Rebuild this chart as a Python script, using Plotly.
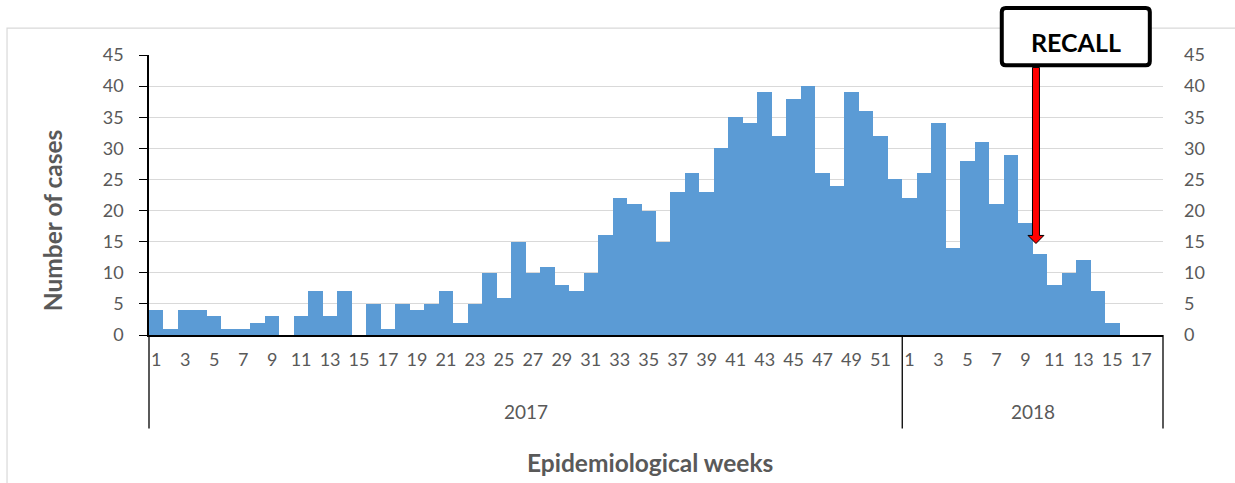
import plotly.graph_objects as go

# ---- data -----------------------------------------------------------------
year_2017_weeks = list(range(1, 53))
cases_2017 = [4, 1, 4, 4, 3, 1, 1, 2, 3, 0,
              3, 7, 3, 7, 0, 5, 1, 5, 4, 5,
              7, 2, 5, 10, 6, 15, 10, 11, 8, 7,
              10, 16, 22, 21, 20, 15, 23, 26, 23, 30,
              35, 34, 39, 32, 38, 40, 26, 24, 39, 36,
              32, 25]
year_2018_weeks = list(range(1, 19))
cases_2018 = [22, 26, 34, 14, 28, 31, 21, 29, 18, 13,
              8, 10, 12, 7, 2, 0, 0, None]
years = ["2017", "2018"]
recall_year = "2018"
recall_week = 10
recall_label = "RECALL"

# ---- build category sequence ----------------------------------------------
weeks = year_2017_weeks + year_2018_weeks
values = cases_2017 + cases_2018
year_of = ["2017"] * len(year_2017_weeks) + ["2018"] * len(year_2018_weeks)
idx = list(range(len(weeks)))
n = len(weeks)
xr = [-0.5, n - 0.5]

W, H = 1235, 483
ML, MR, MT, MB = 149, 72, 55, 148
PW, PH = W - ML - MR, H - MT - MB

def xpaper(v):
    return (v - xr[0]) / (xr[1] - xr[0])

tickvals = [i for i, w in zip(idx, weeks) if w % 2 == 1]
ticktext = [str(weeks[i]) for i in tickvals]

GRAY = "#595959"
FONT = "Lato"

fig = go.Figure()
fig.add_trace(go.Bar(x=idx, y=values, marker=dict(color="#5b9bd5", line=dict(width=0)),
                     width=1.0, hoverinfo="x+y"))
fig.add_trace(go.Scatter(x=[idx[0]], y=[0], yaxis="y2", mode="markers",
                         marker=dict(opacity=0), hoverinfo="skip", showlegend=False))

shapes = []
annotations = []

# group dividers and year labels
groups = []
for y in years:
    members = [i for i in idx if year_of[i] == y]
    groups.append((y, members[0], members[-1]))
div_bottom = -0.334
bounds = [groups[0][1] - 0.5] + [g[2] + 0.5 for g in groups]
for b in bounds:
    shapes.append(dict(type="line", xref="paper", yref="paper",
                       x0=xpaper(b), x1=xpaper(b), y0=0, y1=div_bottom,
                       line=dict(color="black", width=1.3)))
for y, a, b in groups:
    annotations.append(dict(text=y, xref="paper", yref="paper",
                            x=xpaper((a + b) / 2), y=-0.272, showarrow=False,
                            font=dict(family=FONT, size=19, color=GRAY),
                            xanchor="center", yanchor="middle"))

# outer light frame
shapes.append(dict(type="rect", xref="paper", yref="paper", x0=-0.14, x1=1.3,
                   y0=-0.7, y1=1.096, line=dict(color="#d9d9d9", width=1.2),
                   fillcolor="rgba(0,0,0,0)", layer="below"))

# recall arrow (data coordinates)
ri = [i for i in idx if year_of[i] == recall_year and weeks[i] == recall_week][0]
xc = ri - 0.27
hw, hh = 0.24, 0.55
ytop, ytip, yneck = 43.0, 14.7, 16.0
path = (f"M {xc-hw},{ytop} L {xc+hw},{ytop} L {xc+hw},{yneck} L {xc+hh},{yneck} "
        f"L {xc},{ytip} L {xc-hh},{yneck} L {xc-hw},{yneck} Z")
shapes.append(dict(type="path", xref="x", yref="y", path=path,
                   fillcolor="#ff0000", line=dict(color="black", width=1), layer="above"))

# recall box with slightly rounded corners (paper coordinates)
bx0, bx1, by0, by1 = 0.841, 0.987, 0.963, 1.168
rx, ry = 4 / PW, 4 / PH
box = (f"M {bx0+rx},{by1} L {bx1-rx},{by1} Q {bx1},{by1} {bx1},{by1-ry} "
       f"L {bx1},{by0+ry} Q {bx1},{by0} {bx1-rx},{by0} "
       f"L {bx0+rx},{by0} Q {bx0},{by0} {bx0},{by0+ry} "
       f"L {bx0},{by1-ry} Q {bx0},{by1} {bx0+rx},{by1} Z")
shapes.append(dict(type="path", xref="paper", yref="paper", path=box,
                   fillcolor="white", line=dict(color="black", width=4), layer="above"))
annotations.append(dict(text=f"<b>{recall_label}</b>", xref="paper", yref="paper",
                        x=(bx0 + bx1) / 2, y=1.045, showarrow=False,
                        font=dict(family=FONT, size=25, color="black"),
                        xanchor="center", yanchor="middle"))

# axis titles
annotations.append(dict(text="<b>Number of cases</b>", xref="paper", yref="paper",
                        x=-0.0957, y=0.41, textangle=-90, showarrow=False,
                        font=dict(family=FONT, size=24.5, color=GRAY),
                        xanchor="center", yanchor="middle"))
annotations.append(dict(text="<b>Epidemiological weeks</b>", xref="paper", yref="paper",
                        x=0.494, y=-0.457, showarrow=False,
                        font=dict(family=FONT, size=24.5, color=GRAY),
                        xanchor="center", yanchor="middle"))

fig.update_layout(
    width=W, height=H,
    margin=dict(l=ML, r=MR, t=MT, b=MB),
    paper_bgcolor="white", plot_bgcolor="white",
    showlegend=False, bargap=0, barmode="overlay",
    font=dict(family=FONT, color=GRAY),
    xaxis=dict(range=xr, tickvals=tickvals, ticktext=ticktext, ticks="",
               showgrid=False, zeroline=False, showline=True, linecolor="black",
               linewidth=1.5, tickfont=dict(family=FONT, size=18, color=GRAY),
               tickangle=0, ticklabelstandoff=8),
    yaxis=dict(range=[0, 45], dtick=5, showgrid=True, gridcolor="#d9d9d9", gridwidth=1.2,
               zeroline=False, showline=True, linecolor="black", linewidth=1.5,
               ticks="outside", ticklen=8, tickcolor="black", tickwidth=1.3,
               tickfont=dict(family=FONT, size=18, color=GRAY), ticklabelstandoff=12),
    yaxis2=dict(range=[0, 45], dtick=5, overlaying="y", side="right", showgrid=False,
                zeroline=False, showline=False, ticks="",
                tickfont=dict(family=FONT, size=18, color=GRAY), ticklabelstandoff=20),
    shapes=shapes, annotations=annotations,
)

fig.write_html("out.html", config={"displayModeBar": False},
               post_script="document.body.style.margin='0';")
